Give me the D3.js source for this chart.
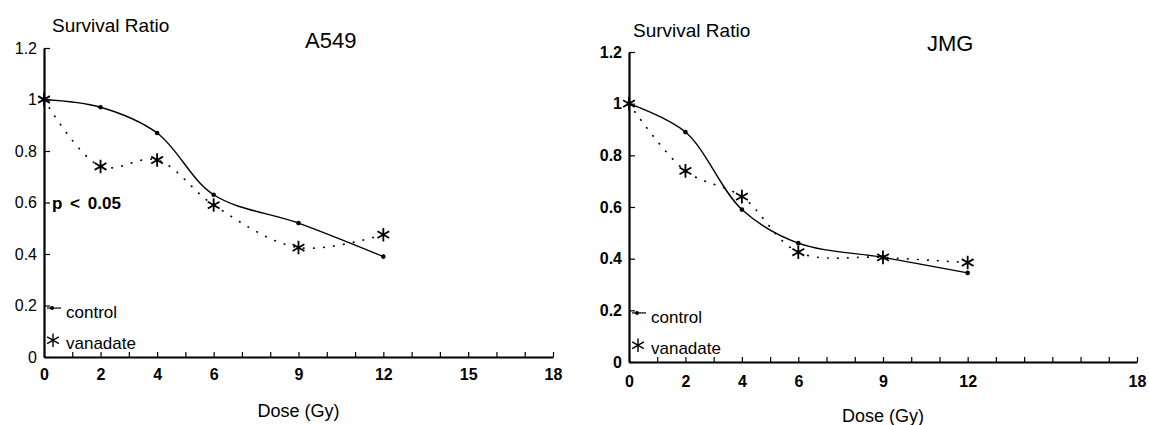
<!DOCTYPE html>
<html>
<head>
<meta charset="utf-8">
<script src="https://cdn.jsdelivr.net/npm/d3@7"></script>
<style>
  body { margin: 0; background: #fff; }
  svg { display: block; font-family: "Liberation Sans", Arial, sans-serif; }
</style>
</head>
<body>
<svg id="chart" width="1149" height="425"></svg>
<script>
// dose values (Gy)
var doses = [0, 2, 4, 6, 9, 12];

// A549 panel
var a549Control  = [1.00, 0.97, 0.87, 0.63, 0.52, 0.39];
var a549Vanadate = [1.00, 0.74, 0.765, 0.59, 0.425, 0.475];
var a549VanErr   = [0, 0, 0, 0, 0, 0.03];

// JMG panel
var jmgControl  = [1.00, 0.89, 0.59, 0.46, 0.405, 0.345];
var jmgVanadate = [1.00, 0.74, 0.64, 0.425, 0.405, 0.385];
var jmgCtrlErr  = [0, 0, 0, 0, 0, 0.035];

var yTicks = [0, 0.2, 0.4, 0.6, 0.8, 1, 1.2];
var a549XLabels = [0, 2, 4, 6, 9, 12, 15, 18];
var jmgXLabels  = [0, 2, 4, 6, 9, 12, 18];

var svg = d3.select("#chart");

var panels = [
    {title: "A549", control: a549Control, vanadate: a549Vanadate,
     ctrlErr: null, vanErr: a549VanErr, xLabels: a549XLabels,
     x0: 44, x1: 553, y0: 357, y1: 48, yBold: false,
     titleX: 305, titleY: 48, yTitleX: 52, yTitleY: 32, xPad: 12,
     note: "p < 0.05"},
    {title: "JMG", control: jmgControl, vanadate: jmgVanadate,
     ctrlErr: jmgCtrlErr, vanErr: null, xLabels: jmgXLabels,
     x0: 629, x1: 1137, y0: 362, y1: 52, yBold: true,
     titleX: 927, titleY: 51, yTitleX: 633, yTitleY: 37, xPad: 14,
     note: null}
];

panels.forEach(function(p) {
    var x = d3.scaleLinear().domain([0, 18]).range([p.x0, p.x1]);
    var y = d3.scaleLinear().domain([0, 1.2]).range([p.y0, p.y1]);
    var g = svg.append("g");

    // x axis
    var xAxis = d3.axisBottom(x)
        .tickValues(d3.range(0, 19))
        .tickSizeInner(-5).tickSizeOuter(0)
        .tickPadding(p.xPad)
        .tickFormat(function(d) { return p.xLabels.indexOf(d) >= 0 ? d : ""; });
    var gx = g.append("g")
        .attr("transform", "translate(0," + p.y0 + ")")
        .call(xAxis);
    gx.select(".domain").attr("stroke-width", 2);
    gx.selectAll("line").attr("stroke-width", 1.2);
    gx.selectAll("text").attr("font-size", 16).attr("font-weight", "bold").attr("fill", "#000");

    // y axis
    var yAxis = d3.axisLeft(y)
        .tickValues(yTicks)
        .tickSizeInner(-6).tickSizeOuter(0)
        .tickPadding(7)
        .tickFormat(function(d) { return d3.format("")(+d.toFixed(1)); });
    var gy = g.append("g")
        .attr("transform", "translate(" + p.x0 + ",0)")
        .call(yAxis);
    gy.select(".domain").attr("stroke-width", 2.2);
    gy.selectAll("line").attr("stroke-width", 1.2);
    gy.selectAll("text").attr("font-size", 16)
        .attr("font-weight", p.yBold ? "bold" : "normal").attr("fill", "#000");

    // titles
    g.append("text").attr("x", p.yTitleX).attr("y", p.yTitleY)
        .attr("font-size", 19).text("Survival Ratio");
    g.append("text").attr("x", p.titleX).attr("y", p.titleY)
        .attr("font-size", 22).text(p.title);
    g.append("text").attr("x", (p.x0 + x(18)) / 2).attr("y", p.y0 + 60)
        .attr("text-anchor", "middle").attr("font-size", 18).text("Dose (Gy)");

    if (p.note) {
        g.append("text").attr("x", p.x0 + 8).attr("y", y(0.6) + 6)
            .attr("font-size", 17).attr("font-weight", "bold")
            .attr("word-spacing", 3).text(p.note);
    }

    var line = d3.line()
        .x(function(d, i) { return x(doses[i]); })
        .y(function(d) { return y(d); })
        .curve(d3.curveCatmullRom.alpha(0.5));

    // control: solid line, dots
    g.append("path").datum(p.control)
        .attr("d", line).attr("fill", "none")
        .attr("stroke", "#000").attr("stroke-width", 1.4);
    g.selectAll(".cdot").data(p.control).enter().append("circle")
        .attr("cx", function(d, i) { return x(doses[i]); })
        .attr("cy", function(d) { return y(d); })
        .attr("r", 2.3).attr("fill", "#000");

    // vanadate: dotted line, asterisks
    g.append("path").datum(p.vanadate)
        .attr("d", line).attr("fill", "none")
        .attr("stroke", "#000").attr("stroke-width", 1.7)
        .attr("stroke-linecap", "round")
        .attr("stroke-dasharray", "0.5 9.5");
    var star = d3.symbol().type(d3.symbolAsterisk).size(130);
    g.selectAll(".vstar").data(p.vanadate).enter().append("path")
        .attr("d", star)
        .attr("transform", function(d, i) { return "translate(" + x(doses[i]) + "," + y(d) + ")"; })
        .attr("fill", "none").attr("stroke", "#000").attr("stroke-width", 1.8);

    // error bars
    [[p.control, p.ctrlErr], [p.vanadate, p.vanErr]].forEach(function(pair) {
        if (!pair[1]) return;
        g.selectAll(null).data(pair[0]).enter()
            .filter(function(d, i) { return pair[1][i] > 0; })
            .append("line")
            .attr("x1", function(d, i) { return x(doses[i]); })
            .attr("x2", function(d, i) { return x(doses[i]); })
            .attr("y1", function(d, i) { return y(d - pair[1][i]); })
            .attr("y2", function(d, i) { return y(d + pair[1][i]); })
            .attr("stroke", "#000").attr("stroke-width", 1.2);
    });

    // legend
    var lx = p.x0;
    var lc = y(0.19), lv = y(0.065);
    g.append("line").attr("x1", lx + 3).attr("x2", lx + 17)
        .attr("y1", lc).attr("y2", lc).attr("stroke", "#000").attr("stroke-width", 1.2);
    g.append("circle").attr("cx", lx + 8).attr("cy", lc).attr("r", 2).attr("fill", "#000");
    g.append("text").attr("x", lx + 22).attr("y", lc + 10).attr("font-size", 17).text("control");
    g.append("path").attr("d", star)
        .attr("transform", "translate(" + (lx + 9) + "," + lv + ")")
        .attr("fill", "none").attr("stroke", "#000").attr("stroke-width", 1.4);
    g.append("text").attr("x", lx + 22).attr("y", lv + 9).attr("font-size", 17).text("vanadate");
});
</script>
</body>
</html>
